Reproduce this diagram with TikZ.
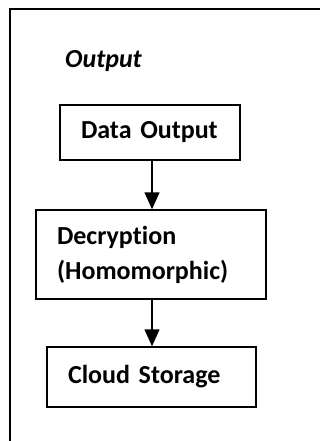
\documentclass[tikz,border=0pt]{standalone}
\usepackage{fontspec}
\setmainfont[Ligatures=NoCommon]{Carlito}
\usetikzlibrary{arrows.meta}
\tikzset{
  flowbox/.style={draw, line width=1.5pt, inner xsep=21pt, inner ysep=0pt,
    align=left, font=\bfseries\fontsize{26}{35}\selectfont},
  flowarrow/.style={line width=1.5pt, -{Triangle[length=17pt,width=15pt]}},
}
\begin{document}
\begin{tikzpicture}[x=1pt,y=-1pt]
  \useasboundingbox (0,0) rectangle (320,441);
  % outer frame, running off the right and bottom edges
  \begin{scope}
    \clip (0,0) rectangle (320,441);
    \draw[line width=2.3pt] (10,460) |- (340,9);
  \end{scope}
  \node[anchor=base west, font=\bfseries\itshape\fontsize{26}{30}\selectfont, inner sep=0pt]
    (title) at (65,68) {Output};
  \node[flowbox, text width=138pt, minimum height=55pt] (out) at (150,132.5) {Data Output};
  \node[flowbox, text width=188pt, minimum height=89pt] (dec) at (151,254.5)
    {Decryption\\(Homomorphic)};
  \node[flowbox, text width=167pt, minimum height=60pt] (cloud) at (151.5,377) {Cloud Storage};
  % vertical axis shared by both arrows
  \coordinate (axis) at (152,0);
  \draw[flowarrow] (out.south -| axis) -- (dec.north -| axis);
  \draw[flowarrow] (dec.south -| axis) -- (cloud.north -| axis);
\end{tikzpicture}
\end{document}
